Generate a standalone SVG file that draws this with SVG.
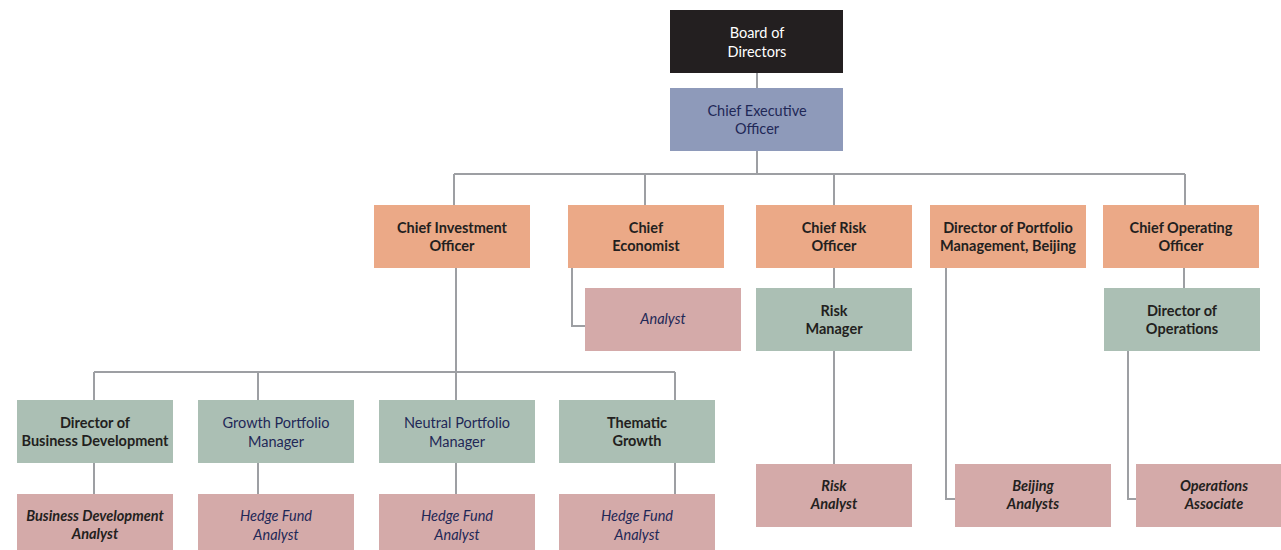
<svg xmlns="http://www.w3.org/2000/svg" width="1281" height="550" viewBox="0 0 1281 550">
<style>
.t{font-family:Lato,"Liberation Sans",sans-serif;font-size:14.5px;text-anchor:middle}
.b{font-weight:bold;fill:#231f20}
.n{fill:#1f2857}
.i{font-style:italic}
.w{fill:#ffffff}
.or{fill:#eba987}
.gr{fill:#abbfb4}
.pk{fill:#d4aaa9}
.ln{fill:none;stroke:#9d9fa3;stroke-width:2}
</style>
<rect width="1281" height="550" fill="#ffffff"/>
<g id="connectors" class="ln">
<path d="M757 73V88M757 151V174M454 174H1185M454 174V205M645 174V205M834 174V205M1185 174V205"/>
<path d="M456 268V372M94 372H675M94 372V400M258 372V400M456 372V400M675 372V400"/>
<path d="M94 463V494M258 463V494M456 463V494M675 463V494"/>
<path d="M572 268V326H585"/>
<path d="M834 268V288M834 351V464"/>
<path d="M946 268V499H955"/>
<path d="M1184 268V288"/>
<path d="M1128 351V499H1136"/>
</g>
<g id="board"><rect x="670" y="10" width="173" height="63" fill="#231f20"/><text class="t w" x="757" y="38">Board of</text><text class="t w" x="757" y="57">Directors</text></g>
<g id="ceo"><rect x="670" y="88" width="173" height="63" fill="#8e9aba"/><text class="t n" x="757" y="116">Chief Executive</text><text class="t n" x="757" y="134">Officer</text></g>
<g id="cio"><rect class="or" x="374" y="205" width="156" height="63"/><text class="t b" x="452" y="233">Chief Investment</text><text class="t b" x="452" y="251">Officer</text></g>
<g id="economist"><rect class="or" x="568" y="205" width="156" height="63"/><text class="t b" x="646" y="233">Chief</text><text class="t b" x="646" y="251">Economist</text></g>
<g id="cro"><rect class="or" x="756" y="205" width="156" height="63"/><text class="t b" x="834" y="233">Chief Risk</text><text class="t b" x="834" y="251">Officer</text></g>
<g id="dpm"><rect class="or" x="930" y="205" width="156" height="63"/><text class="t b" x="1008" y="233">Director of Portfolio</text><text class="t b" x="1008" y="251">Management, Beijing</text></g>
<g id="coo"><rect class="or" x="1103" y="205" width="156" height="63"/><text class="t b" x="1181" y="233">Chief Operating</text><text class="t b" x="1181" y="251">Officer</text></g>
<g id="analyst"><rect class="pk" x="585" y="288" width="156" height="63"/><text class="t n i" x="663" y="324">Analyst</text></g>
<g id="riskmgr"><rect class="gr" x="756" y="288" width="156" height="63"/><text class="t b" x="834" y="316">Risk</text><text class="t b" x="834" y="334">Manager</text></g>
<g id="dirops"><rect class="gr" x="1104" y="288" width="156" height="63"/><text class="t b" x="1182" y="316">Director of</text><text class="t b" x="1182" y="334">Operations</text></g>
<g id="dbd"><rect class="gr" x="17" y="400" width="156" height="63"/><text class="t b" x="95" y="428">Director of</text><text class="t b" x="95" y="446">Business Development</text></g>
<g id="gpm"><rect class="gr" x="198" y="400" width="156" height="63"/><text class="t n" x="276" y="428">Growth Portfolio</text><text class="t n" x="276" y="447">Manager</text></g>
<g id="npm"><rect class="gr" x="379" y="400" width="156" height="63"/><text class="t n" x="457" y="428">Neutral Portfolio</text><text class="t n" x="457" y="447">Manager</text></g>
<g id="thematic"><rect class="gr" x="559" y="400" width="156" height="63"/><text class="t b" x="637" y="428">Thematic</text><text class="t b" x="637" y="446">Growth</text></g>
<g id="bda"><rect class="pk" x="17" y="494" width="156" height="63"/><text class="t b i" x="95" y="521">Business Development</text><text class="t b i" x="95" y="539">Analyst</text></g>
<g id="hfa1"><rect class="pk" x="198" y="494" width="156" height="63"/><text class="t n i" x="276" y="521">Hedge Fund</text><text class="t n i" x="276" y="540">Analyst</text></g>
<g id="hfa2"><rect class="pk" x="379" y="494" width="156" height="63"/><text class="t n i" x="457" y="521">Hedge Fund</text><text class="t n i" x="457" y="540">Analyst</text></g>
<g id="hfa3"><rect class="pk" x="559" y="494" width="156" height="63"/><text class="t n i" x="637" y="521">Hedge Fund</text><text class="t n i" x="637" y="540">Analyst</text></g>
<g id="riskanalyst"><rect class="pk" x="756" y="464" width="156" height="63"/><text class="t b i" x="834" y="491">Risk</text><text class="t b i" x="834" y="509">Analyst</text></g>
<g id="beijing"><rect class="pk" x="955" y="464" width="156" height="63"/><text class="t b i" x="1033" y="491">Beijing</text><text class="t b i" x="1033" y="509">Analysts</text></g>
<g id="opsassoc"><rect class="pk" x="1136" y="464" width="156" height="63"/><text class="t b i" x="1214" y="491">Operations</text><text class="t b i" x="1214" y="509">Associate</text></g>
</svg>
